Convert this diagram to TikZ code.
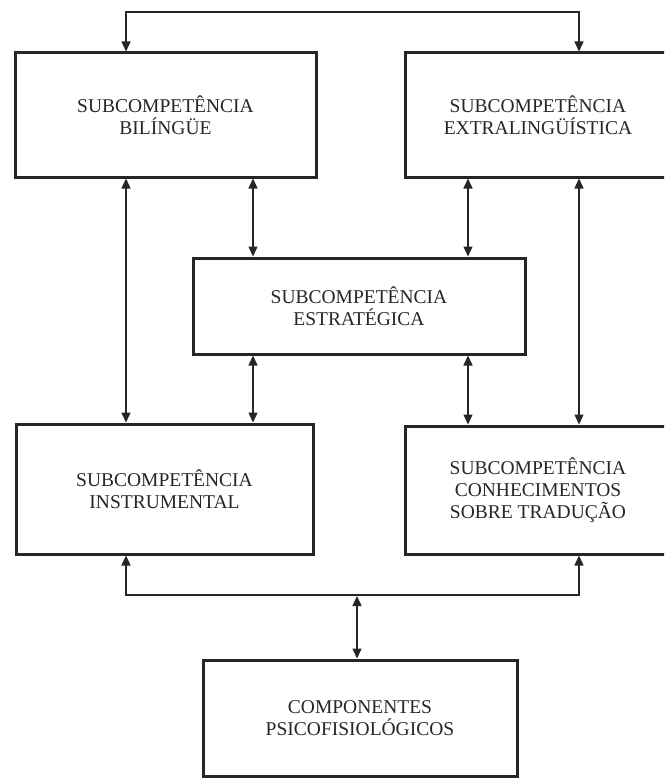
\documentclass[tikz,border=0pt]{standalone}
\usepackage{fontspec}
\setmainfont{Liberation Serif}
\usetikzlibrary{arrows.meta}
\definecolor{ink}{HTML}{262626}
\begin{document}
\begin{tikzpicture}[x=1pt,y=-1pt,
  box/.style={draw=ink, line width=3pt, inner sep=0pt, align=center,
    font=\fontsize{19.5}{22}\selectfont, text=ink},
  tip/.tip={Triangle[length=10pt,width=9pt]},
  link/.style={draw=ink, line width=1.4pt, tip-tip},
  ]
\useasboundingbox (0,0) rectangle (664,778);
\fill[white] (0,0) rectangle (664,778);
\clip (0,0) rectangle (664,778);
% boxes
\node[box, minimum width=301pt, minimum height=124pt] (bil) at (165.5,115) {SUBCOMPETÊNCIA\\BILÍNGÜE};
\node[box, minimum width=266pt, minimum height=124pt] (ext) at (538,115) {SUBCOMPETÊNCIA\\EXTRALINGÜÍSTICA};
\node[box, minimum width=332pt, minimum height=96pt] (est) at (359,306) {SUBCOMPETÊNCIA\\ESTRATÉGICA};
\node[box, minimum width=297pt, minimum height=130pt] (ins) at (164.5,489) {SUBCOMPETÊNCIA\\INSTRUMENTAL};
\node[box, minimum width=266pt, minimum height=128pt] (con) at (538,490) {SUBCOMPETÊNCIA\\CONHECIMENTOS\\SOBRE TRADUÇÃO};
\node[box, minimum width=314pt, minimum height=116pt] (psi) at (360,718) {COMPONENTES\\PSICOFISIOLÓGICOS};
% column coordinates
\coordinate (c1) at (126,12);
\coordinate (c2) at (253,12);
\coordinate (c3) at (468,12);
\coordinate (c4) at (579,12);
\coordinate (b1) at (126,595);
\coordinate (b4) at (579,595);
\coordinate (bm) at (357,595);
% connectors
\draw[link] (c1 |- bil.north) -- (c1) -- (c4) -- (c4 |- ext.north);
\draw[link] (c1 |- bil.south) -- (c1 |- ins.north);
\draw[link] (c2 |- bil.south) -- (c2 |- est.north);
\draw[link] (c3 |- ext.south) -- (c3 |- est.north);
\draw[link] (c4 |- ext.south) -- (c4 |- con.north);
\draw[link] (c2 |- est.south) -- (c2 |- ins.north);
\draw[link] (c3 |- est.south) -- (c3 |- con.north);
\draw[link] (b1 |- ins.south) -- (b1) -- (b4) -- (b4 |- con.south);
\draw[link] ([yshift=-1pt]bm) -- (bm |- psi.north);
\end{tikzpicture}
\end{document}
